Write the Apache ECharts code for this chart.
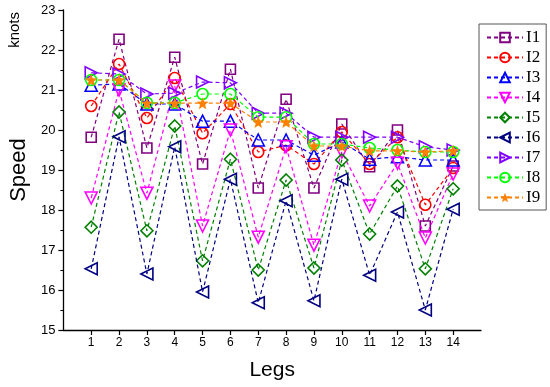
<!DOCTYPE html>
<html>
<head>
<meta charset="utf-8">
<script src="https://cdn.jsdelivr.net/npm/echarts@6/dist/echarts.min.js"></script>
<style>
html,body{margin:0;padding:0;background:#fff;}
#chart{width:550px;height:387px;}
</style>
</head>
<body>
<div id="chart"></div>
<script>
var legs = [1,2,3,4,5,6,7,8,9,10,11,12,13,14];
var seriesNames = ['I1','I2','I3','I4','I5','I6','I7','I8','I9'];
var I1 = [19.82,22.27,19.55,21.82,19.15,21.52,18.55,20.77,18.55,20.15,19.08,20.0,17.6,19.1];
var I2 = [20.6,21.65,20.3,21.3,19.92,20.65,19.45,19.62,19.15,19.95,19.15,19.82,18.13,19.05];
var I3 = [21.12,21.15,20.65,20.65,20.22,20.22,19.75,19.75,19.37,19.7,19.27,19.33,19.25,19.25];
var I4 = [18.3,21.0,18.42,21.1,17.6,20.0,17.32,19.58,17.12,19.45,18.1,19.17,17.3,18.9];
var I5 = [17.57,20.45,17.48,20.1,16.73,19.27,16.5,18.75,16.55,19.25,17.4,18.6,16.53,18.53];
var I6 = [16.53,19.83,16.4,19.58,15.95,18.77,15.68,18.23,15.73,18.77,16.37,17.95,15.5,18.02];
var I7 = [21.43,21.4,20.9,20.92,21.2,21.18,20.42,20.42,19.82,19.82,19.82,19.82,19.58,19.5];
var I8 = [21.25,21.25,20.68,20.68,20.9,20.9,20.32,20.32,19.65,19.65,19.55,19.5,19.45,19.45];
var I9 = [21.25,21.25,20.67,20.67,20.67,20.67,20.2,20.2,19.6,19.6,19.48,19.48,19.45,19.48];
var yTicks = [15,16,17,18,19,20,21,22,23];

var allData = [I1,I2,I3,I4,I5,I6,I7,I8,I9];
var colors = ['#800080','#ff0000','#0000ff','#ff00ff','#008000','#000080','#8000ff','#00ff00','#ff8000'];
var starPath = 'path://M12,1 L14.9,8.6 L23,9 L16.7,14.2 L18.8,22 L12,17.6 L5.2,22 L7.3,14.2 L1,9 L9.1,8.6 Z';
var symbols = ['rect','circle','triangle','triangle','diamond','triangle','triangle','circle',starPath];
var rotates = [0,0,0,180,0,90,-90,0,0];
var sizes = [10,11,12,12,12,12,12,11,12];

var series = seriesNames.map(function(name, i){
  var filled = (i === 8);
  return {
    name: name,
    type: 'line',
    data: legs.map(function(x, k){ return [x, allData[i][k]]; }),
    symbol: symbols[i],
    symbolRotate: rotates[i],
    symbolSize: sizes[i],
    showAllSymbol: true,
    lineStyle: {color: colors[i], width: 1.2, type: [4,3]},
    itemStyle: {color: filled ? colors[i] : 'rgba(255,255,255,0)', borderColor: colors[i], borderWidth: filled ? 0 : 1.6},
    emphasis: {disabled: true},
    animation: false,
    z: 2 + i
  };
});

var chart = echarts.init(document.getElementById('chart'));
chart.setOption({
  backgroundColor: '#ffffff',
  animation: false,
  grid: {left: 54, right: 69, top: 10, bottom: 57},
  legend: {
    orient: 'vertical',
    left: 479, top: 24,
    padding: [5, 6, 4, 7],
    itemWidth: 36, itemHeight: 12, itemGap: 3,
    borderColor: '#555', borderWidth: 1,
    backgroundColor: '#fff',
    textStyle: {fontFamily: 'Liberation Serif', fontSize: 17, color: '#000', padding: [0,0,0,-2]},
    data: seriesNames
  },
  xAxis: {
    type: 'value', min: 0, max: 15, interval: 1,
    name: 'Legs', nameLocation: 'middle', nameGap: 30,
    nameTextStyle: {fontFamily: 'Liberation Sans', fontSize: 21, color: '#000'},
    axisLine: {lineStyle: {color: '#000', width: 1.3}},
    axisTick: {show: true, length: 5, lineStyle: {color: '#000', width: 1.2}, customValues: legs},
    axisLabel: {customValues: legs, fontFamily: 'Liberation Sans', fontSize: 12, color: '#000', margin: 7},
    splitLine: {show: false}
  },
  yAxis: {
    type: 'value', min: 15, max: 23, interval: 1,
    name: 'Speed', nameLocation: 'middle', nameRotate: 90, nameGap: 27,
    nameTextStyle: {fontFamily: 'Liberation Sans', fontSize: 22, color: '#000'},
    axisLine: {show: true, lineStyle: {color: '#000', width: 1.3}},
    axisTick: {show: true, length: 5, lineStyle: {color: '#000', width: 1.2}},
    minorTick: {show: true, splitNumber: 2, length: 3, lineStyle: {color: '#000', width: 1}},
    axisLabel: {fontFamily: 'Liberation Sans', fontSize: 13, color: '#000', margin: 8,
      formatter: function(v){ return yTicks.indexOf(v) >= 0 ? String(v) : ''; }},
    splitLine: {show: false}
  },
  graphic: [{
    type: 'text', left: 7, top: 12, rotation: Math.PI/2,
    style: {text: 'knots', fontFamily: 'Liberation Sans', fontSize: 15, fill: '#000'}
  }],
  series: series
});
</script>
</body>
</html>
